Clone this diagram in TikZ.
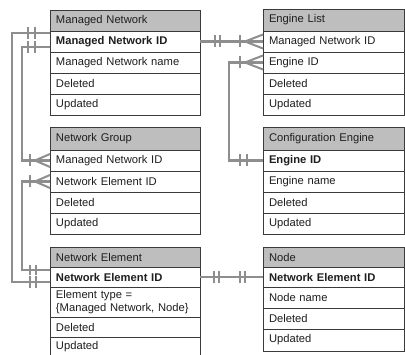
\documentclass[tikz,border=0pt]{standalone}
\usepackage{fontspec}
\setmainfont{Liberation Sans}
\begin{document}
\begin{tikzpicture}[x=1pt,y=-1pt]
\definecolor{border}{HTML}{3A3A3A}
\definecolor{headfill}{HTML}{BEBEBE}
\definecolor{conncol}{HTML}{8E8E8E}
\definecolor{txt}{HTML}{1E1E1E}
\tikzset{
  row/.style={draw=border, line width=0.8pt, anchor=north west, inner xsep=6pt, inner ysep=0pt,
    outer sep=0pt, minimum height=21pt, align=left, text=txt,
    font=\fontsize{11.2}{13}\selectfont},
  lrow/.style={row, text width=138pt},
  rrow/.style={row, text width=129pt},
  head/.style={fill=headfill},
  conn/.style={draw=conncol, line width=2.2pt},
  tick/.style={draw=conncol, line width=2pt},
}
\useasboundingbox (0,0) rectangle (405,355);
\fill[white] (0,0) rectangle (405,355);

% Managed Network
\node[lrow,head,minimum height=21pt] (mnh) at (50,10) {Managed Network};
\node[lrow] (mn1) at (50,31) {\textbf{Managed Network ID}};
\node[lrow] (mn2) at (50,52) {Managed Network name};
\node[lrow] (mn3) at (50,73) {Deleted};
\node[lrow] (mn4) at (50,94) {Updated};

% Engine List
\node[rrow,head,minimum height=22pt] (elh) at (263,9) {Engine List};
\node[rrow] (el1) at (263,31) {Managed Network ID};
\node[rrow] (el2) at (263,52) {Engine ID};
\node[rrow] (el3) at (263,73) {Deleted};
\node[rrow] (el4) at (263,94) {Updated};

% Network Group
\node[lrow,head,minimum height=23pt] (ngh) at (50,127) {Network Group};
\node[lrow] (ng1) at (50,150) {Managed Network ID};
\node[lrow] (ng2) at (50,171) {Network Element ID};
\node[lrow] (ng3) at (50,192) {Deleted};
\node[lrow] (ng4) at (50,213) {Updated};

% Configuration Engine
\node[rrow,head,minimum height=23pt] (ceh) at (263,127) {Configuration Engine};
\node[rrow] (ce1) at (263,150) {\textbf{Engine ID}};
\node[rrow] (ce2) at (263,171) {Engine name};
\node[rrow] (ce3) at (263,192) {Deleted};
\node[rrow] (ce4) at (263,213) {Updated};

% Network Element
\node[lrow,head,minimum height=20pt] (neh) at (50,247) {Network Element};
\node[lrow,minimum height=20pt] (ne1) at (50,267) {\textbf{Network Element ID}};
\node[lrow,minimum height=30pt] (ne2) at (50,287) {Element type =\\\{Managed Network, Node\}};
\node[lrow,minimum height=20pt] (ne3) at (50,317) {Deleted};
\node[lrow,minimum height=20pt] (ne4) at (50,337) {Updated};

% Node
\node[rrow,head,minimum height=20pt] (ndh) at (263,247) {Node};
\node[rrow,minimum height=20pt] (nd1) at (263,267) {\textbf{Network Element ID}};
\node[rrow] (nd2) at (263,287) {Node name};
\node[rrow] (nd3) at (263,308) {Deleted};
\node[rrow,minimum height=22pt] (nd4) at (263,329) {Updated};

% connection points
\coordinate (a1) at ([yshift=8.5pt]mn1.west);
\coordinate (a2) at ([yshift=-5pt]ne1.west);
\coordinate (b1) at ([yshift=-5.5pt]mn1.west);
\coordinate (c2) at ([yshift=7pt]ne1.west);

% A: Managed Network ID -- Network Element ID
\draw[conn] (a1) -- (a1 -| 12,0) |- (a2);
\draw[tick] ([xshift=-22pt]a1) ++(0pt,6pt) -- ++(0pt,-12pt);
\draw[tick] ([xshift=-15pt]a1) ++(0pt,6pt) -- ++(0pt,-12pt);
\draw[tick] ([xshift=-20pt]a2) ++(0pt,6pt) -- ++(0pt,-12pt);
\draw[tick] ([xshift=-14pt]a2) ++(0pt,6pt) -- ++(0pt,-12pt);

% B: Managed Network ID -- Network Group (Managed Network ID)
\draw[conn] (b1) -- (b1 -| 22,0) |- (ng1.west);
\draw[tick] ([xshift=-22pt]b1) ++(0pt,6pt) -- ++(0pt,-12pt);
\draw[tick] ([xshift=-15pt]b1) ++(0pt,6pt) -- ++(0pt,-12pt);
\draw[tick] ([xshift=-20pt]ng1.west) ++(0pt,6pt) -- ++(0pt,-12pt);
\draw[tick] ([xshift=-15pt]ng1.west) -- ++(15pt,6.5pt) ([xshift=-15pt]ng1.west) -- ++(15pt,-6.5pt);

% C: Network Group (Network Element ID) -- Network Element ID
\draw[conn] (ng2.west) -- (ng2.west -| 22,0) |- (c2);
\draw[tick] ([xshift=-20pt]ng2.west) ++(0pt,6pt) -- ++(0pt,-12pt);
\draw[tick] ([xshift=-15pt]ng2.west) -- ++(15pt,6.5pt) ([xshift=-15pt]ng2.west) -- ++(15pt,-6.5pt);
\draw[tick] ([xshift=-20pt]c2) ++(0pt,5pt) -- ++(0pt,-10pt);
\draw[tick] ([xshift=-14pt]c2) ++(0pt,5pt) -- ++(0pt,-10pt);

% D: Managed Network ID -- Engine List (Managed Network ID)
\draw[conn] (mn1.east) -- (el1.west);
\draw[tick] ([xshift=15pt]mn1.east) ++(0pt,6pt) -- ++(0pt,-12pt);
\draw[tick] ([xshift=20pt]mn1.east) ++(0pt,6pt) -- ++(0pt,-12pt);
\draw[tick] ([xshift=-23pt]el1.west) ++(0pt,6pt) -- ++(0pt,-12pt);
\draw[tick] ([xshift=-18pt]el1.west) -- ++(18pt,7pt) ([xshift=-18pt]el1.west) -- ++(18pt,-7pt);

% E: Engine List (Engine ID) -- Configuration Engine (Engine ID)
\draw[conn] (el2.west) -- (el2.west -| 229,0) |- (ce1.west);
\draw[tick] ([xshift=-23pt]el2.west) ++(0pt,6pt) -- ++(0pt,-12pt);
\draw[tick] ([xshift=-18pt]el2.west) -- ++(18pt,7pt) ([xshift=-18pt]el2.west) -- ++(18pt,-7pt);
\draw[tick] ([xshift=-23pt]ce1.west) ++(0pt,6pt) -- ++(0pt,-12pt);
\draw[tick] ([xshift=-16pt]ce1.west) ++(0pt,6pt) -- ++(0pt,-12pt);

% F: Network Element ID -- Node (Network Element ID)
\draw[conn] (ne1.east) -- (nd1.west);
\draw[tick] ([xshift=14pt]ne1.east) ++(0pt,6pt) -- ++(0pt,-12pt);
\draw[tick] ([xshift=19pt]ne1.east) ++(0pt,6pt) -- ++(0pt,-12pt);
\draw[tick] ([xshift=-23pt]nd1.west) ++(0pt,6pt) -- ++(0pt,-12pt);
\draw[tick] ([xshift=-18pt]nd1.west) ++(0pt,6pt) -- ++(0pt,-12pt);
\end{tikzpicture}
\end{document}
